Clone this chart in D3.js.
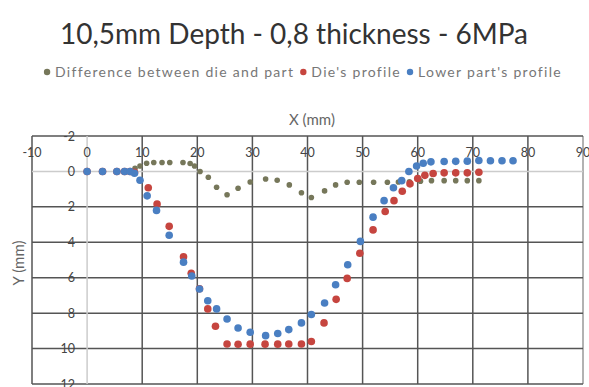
<!DOCTYPE html>
<html>
<head>
<meta charset="utf-8">
<script src="https://cdn.jsdelivr.net/npm/d3@7"></script>
<style>
  body { margin: 0; background: #fff; }
  text { font-family: Lato, "Open Sans", sans-serif; }
</style>
</head>
<body>
<div id="chart"></div>
<script>
var width = 589, height = 387;

var title = "10,5mm Depth - 0,8 thickness - 6MPa";
var seriesNames = ["Difference between die and part", "Die's profile", "Lower part's profile"];
var seriesColors = ["#76775a", "#c6453f", "#4a7fc2"];

// difference between die and part
var diffX = [0, 2.8, 5.4, 6.8, 7.8, 8.7, 9.6, 10.8, 12.1, 13.6, 15.0, 17.4, 18.7, 19.5, 20.5, 22.0, 23.5, 25.4, 27.4, 29.6, 32.4, 34.5, 36.7, 38.9, 40.7, 43.1, 45.1, 47.2, 49.4, 52.0, 54.5, 56.5, 58.5, 60.5, 62.5, 64.8, 66.9, 69.0, 71.1];
var diffY = [0, 0, 0, 0, 0, -0.18, -0.31, -0.46, -0.5, -0.5, -0.5, -0.5, -0.45, -0.31, 0.0, 0.33, 0.89, 1.32, 0.95, 0.6, 0.43, 0.5, 0.76, 1.2, 1.47, 1.1, 0.76, 0.61, 0.61, 0.61, 0.61, 0.6, 0.58, 0.55, 0.52, 0.52, 0.52, 0.52, 0.52];

// die's profile
var dieX = [0, 2.8, 5.4, 6.8, 7.8, 8.6, 11.1, 12.7, 14.9, 17.5, 18.9, 20.4, 21.9, 23.3, 25.4, 27.4, 29.6, 32.3, 34.6, 36.6, 38.9, 40.7, 43.0, 45.2, 47.2, 49.5, 51.9, 54.1, 55.7, 57.2, 58.6, 60.0, 61.3, 62.8, 64.8, 66.9, 69.0, 71.1];
var dieY = [0, 0, 0, 0, 0, 0.05, 0.92, 1.84, 3.1, 4.82, 5.75, 6.62, 7.76, 8.74, 9.74, 9.76, 9.75, 9.75, 9.75, 9.74, 9.74, 9.6, 8.55, 7.22, 6.04, 4.62, 3.3, 2.26, 1.65, 1.12, 0.7, 0.4, 0.22, 0.12, 0.08, 0.08, 0.08, 0.05];

// lower part's profile
var partX = [0, 2.8, 5.4, 6.8, 7.8, 8.6, 9.6, 10.9, 12.6, 14.9, 17.5, 19.0, 20.4, 21.9, 23.5, 25.4, 27.4, 29.6, 32.4, 34.6, 36.6, 38.9, 40.7, 43.1, 45.1, 47.3, 49.6, 51.9, 53.9, 55.6, 57.1, 58.4, 59.8, 61.0, 62.4, 64.8, 66.9, 69.0, 71.1, 73.2, 75.3, 77.3];
var partY = [0, 0, 0, 0, 0, 0.1, 0.5, 1.38, 2.2, 3.6, 5.12, 5.9, 6.64, 7.3, 7.76, 8.33, 8.84, 9.08, 9.27, 9.15, 8.93, 8.55, 8.08, 7.43, 6.4, 5.27, 3.95, 2.58, 1.65, 0.92, 0.52, 0.0, -0.31, -0.46, -0.54, -0.56, -0.57, -0.58, -0.62, -0.6, -0.6, -0.6];

var xTicks = [-10, 0, 10, 20, 30, 40, 50, 60, 70, 80, 90];
var yTicks = [-2, 0, 2, 4, 6, 8, 10, 12];

var plot = {left: 32, right: 583, top: 136, bottom: 384};

var x = d3.scaleLinear().domain([-10, 90]).range([plot.left, plot.right]);
var y = d3.scaleLinear().domain([-2, 12]).range([plot.top, plot.bottom]);

var svg = d3.select("#chart").append("svg")
  .attr("width", width)
  .attr("height", height)
  .style("display", "block");

// title
svg.append("text")
  .attr("x", 294)
  .attr("y", 44)
  .attr("text-anchor", "middle")
  .style("font-size", "28px")
  .style("fill", "#333")
  .text(title);

// legend, laid out then centred
var legend = svg.append("g");
var lx = 0;
seriesNames.forEach(function(name, i) {
  legend.append("circle")
    .attr("cx", lx + 3)
    .attr("cy", 0)
    .attr("r", 3.2)
    .style("fill", seriesColors[i]);
  var t = legend.append("text")
    .attr("x", lx + 11)
    .attr("y", 4.5)
    .style("font-size", "14px")
    .style("letter-spacing", "1.3px")
    .style("fill", "#777")
    .text(name);
  lx += 11 + t.node().getComputedTextLength() + 6;
});
legend.attr("transform", "translate(" + (303 - (lx - 6) / 2) + ",72)");

// grid
var grid = svg.append("g");
grid.selectAll("line.v")
  .data(xTicks.filter(function(d) { return d != 0; }))
  .enter().append("line")
  .attr("x1", function(d) { return x(d); })
  .attr("x2", function(d) { return x(d); })
  .attr("y1", plot.top)
  .attr("y2", plot.bottom)
  .style("stroke", function(d) { return d == 90 ? "#999" : "#555"; })
  .style("stroke-width", 1.5);

grid.selectAll("line.h")
  .data(yTicks.filter(function(d) { return d != 0; }))
  .enter().append("line")
  .attr("x1", plot.left)
  .attr("x2", plot.right)
  .attr("y1", function(d) { return y(d); })
  .attr("y2", function(d) { return y(d); })
  .style("stroke", "#555")
  .style("stroke-width", 1.5);

// light axis lines through zero
grid.append("line")
  .attr("x1", x(0)).attr("x2", x(0))
  .attr("y1", plot.top).attr("y2", plot.bottom)
  .style("stroke", "#ccc").style("stroke-width", 1.5);
grid.append("line")
  .attr("x1", plot.left).attr("x2", plot.right)
  .attr("y1", y(0)).attr("y2", y(0))
  .style("stroke", "#ccc").style("stroke-width", 1.5);

// tick labels
svg.append("g")
  .selectAll("text")
  .data(xTicks)
  .enter().append("text")
  .attr("x", function(d) { return x(d); })
  .attr("y", plot.top + 21)
  .attr("text-anchor", "middle")
  .style("font-size", "12.5px")
  .style("fill", "#444")
  .text(function(d) { return d; });

svg.append("g")
  .selectAll("text")
  .data(yTicks)
  .enter().append("text")
  .attr("x", x(0) - 12)
  .attr("y", function(d) { return y(d) + 4.5; })
  .attr("text-anchor", "end")
  .style("font-size", "12.5px")
  .style("fill", "#444")
  .text(function(d) { return d; });

// axis titles
svg.append("text")
  .attr("x", 312)
  .attr("y", 125)
  .attr("text-anchor", "middle")
  .style("font-size", "15px")
  .style("fill", "#666")
  .text("X (mm)");

svg.append("text")
  .attr("transform", "translate(24,263) rotate(-90)")
  .attr("text-anchor", "middle")
  .style("font-size", "15px")
  .style("fill", "#666")
  .text("Y (mm)");

// points
var series = [
  {xs: diffX, ys: diffY, r: 2.8},
  {xs: dieX, ys: dieY, r: 3.8},
  {xs: partX, ys: partY, r: 3.8}
];

series.forEach(function(s, i) {
  svg.append("g")
    .selectAll("circle")
    .data(d3.zip(s.xs, s.ys))
    .enter().append("circle")
    .attr("cx", function(d) { return x(d[0]); })
    .attr("cy", function(d) { return y(d[1]); })
    .attr("r", s.r)
    .style("fill", seriesColors[i]);
});
</script>
</body>
</html>
